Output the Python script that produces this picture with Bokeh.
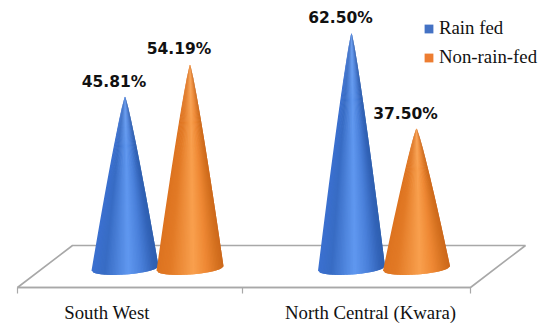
import numpy as np
from bokeh.plotting import figure
from bokeh.embed import file_html
from bokeh.resources import INLINE
from bokeh.models import FixedTicker, Legend, LegendItem, ColumnDataSource
from bokeh.core.properties import value

# ---- data ----
categories = ["South West", "North Central (Kwara)"]
series_names = ["Rain fed", "Non-rain-fed"]
rain_fed = [45.81, 62.50]
non_rain_fed = [54.19, 37.50]

# ---- layout (page pixels) ----
W, H = 541, 323
AXIS_Y = 287
PX_PER_UNIT = 3.84
ZERO_Y = 271
def val(py):
    return (ZERO_Y - py) / PX_PER_UNIT

cone_x = {"rain": [124.5, 351.0], "non": [189.5, 416.0]}
half_w = 33.5
base_y, tilt, bulge = 268.0, 2.3, 6.0
cat_label_x = [106.5, 370.0]
floor_x = [17, 72, 525, 470]
floor_y = [287, 245, 245, 287]
ticks = [17, 242, 470]

blue_stops = [(-1, "#3b70d0"), (-.6, "#386cc4"), (.1, "#6098f0"), (.5, "#4a80da"), (.85, "#3263b8"), (1, "#2f5fae")]
orange_stops = [(-1, "#dd7320"), (-.6, "#e27a26"), (.1, "#f9a04e"), (.5, "#ee8834"), (.85, "#d4701f"), (1, "#cc681c")]

def hex2rgb(h):
    return np.array([int(h[i:i+2], 16) for i in (1, 3, 5)], float)

def shade(stops, t):
    ts = [s[0] for s in stops]
    cols = np.array([hex2rgb(s[1]) for s in stops])
    c = [np.interp(t, ts, cols[:, k]) for k in range(3)]
    return "#%02x%02x%02x" % tuple(int(round(v)) for v in c)

p = figure(width=W, height=H, output_backend="svg", toolbar_location=None,
           x_range=(0, W), y_range=(val(H), val(0)),
           min_border_left=0, min_border_right=0, min_border_top=0,
           min_border_bottom=0, outline_line_color=None,
           background_fill_color="white", border_fill_color="white")
p.grid.visible = False
p.yaxis.visible = False

ax = p.xaxis[0]
ax.fixed_location = val(AXIS_Y)
ax.ticker = FixedTicker(ticks=cat_label_x, minor_ticks=ticks)
ax.major_label_overrides = {x: c for x, c in zip(cat_label_x, categories)}
ax.bounds = (ticks[0], ticks[-1])
ax.axis_line_color = "#a8a8a8"
ax.axis_line_width = 1.6
ax.major_tick_line_color = None
ax.major_tick_out = 0
ax.major_tick_in = 0
ax.minor_tick_line_color = "#a8a8a8"
ax.minor_tick_line_width = 1.2
ax.minor_tick_out = 6
ax.minor_tick_in = 0
ax.major_label_text_font = "Liberation Serif"
ax.major_label_text_font_size = "18.8px"
ax.major_label_text_color = "#111111"
ax.major_label_standoff = 8

p.patch([x for x in floor_x], [val(y) for y in floor_y], fill_color="white",
        line_color="#a8a8a8", line_width=1.6)

N, LEVELS = 44, 14
def cone(cx, v, stops):
    xs, ys, cs = [], [], []
    apex = v
    for i in range(N):
        t0, t1 = -1 + 2 * i / N, min(1, -1 + 2 * (i + 2) / N)
        xx, yy = [], []
        for t, rng in ((t0, range(LEVELS + 1)), (t1, range(LEVELS, -1, -1))):
            by = val(base_y - tilt * t + bulge * np.sqrt(max(0, 1 - t * t)))
            for k in rng:
                s = k / LEVELS
                xx.append(cx + half_w * t * s ** 0.88)
                yy.append(apex + s * (by - apex))
        xs.append(xx); ys.append(yy); cs.append(shade(stops, t0 + 1 / N))
    p.patches(xs, ys, fill_color=cs, line_color=None)

for i in range(2):
    cone(cone_x["rain"][i], rain_fed[i], blue_stops)
    cone(cone_x["non"][i], non_rain_fed[i], orange_stops)

lx = cone_x["rain"] + cone_x["non"]
lv = rain_fed + non_rain_fed
src = ColumnDataSource(dict(x=lx, y=lv, t=["%.2f%%" % v for v in lv]))
p.text("x", "y", text="t", source=src, x_offset=-11, y_offset=-14,
       text_align="center", text_baseline="middle", text_font=value("DejaVu Sans"),
       text_font_style="bold", text_font_size="15.5px", text_color="#111111")

k1 = p.quad(left=[cone_x["rain"][0]], right=[cone_x["rain"][0]], top=[rain_fed[0]], bottom=[rain_fed[0]],
            fill_color="#4472c4", line_color=None)
k2 = p.quad(left=[cone_x["non"][0]], right=[cone_x["non"][0]], top=[non_rain_fed[0]], bottom=[non_rain_fed[0]],
            fill_color="#ed7d31", line_color=None)
leg = Legend(items=[LegendItem(label=series_names[0], renderers=[k1]),
                    LegendItem(label=series_names[1], renderers=[k2])],
             location=(423, 255), orientation="vertical", padding=0, margin=0,
             spacing=7, glyph_width=11, glyph_height=11, label_standoff=5,
             border_line_color=None, background_fill_alpha=0,
             label_text_font="Liberation Serif", label_text_font_size="18.8px",
             label_text_color="#111111")
p.add_layout(leg, "center")

open("out.html", "w").write(file_html(p, INLINE))
